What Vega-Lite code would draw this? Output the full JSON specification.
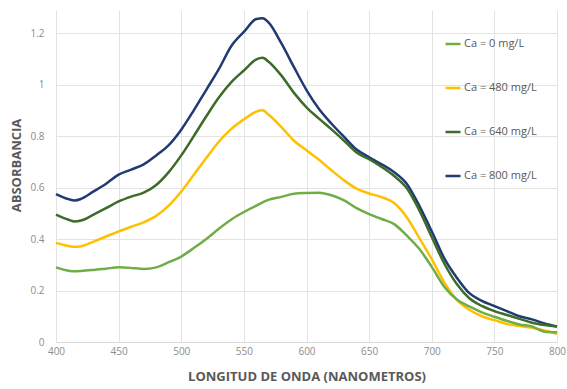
{
  "$schema": "https://vega.github.io/schema/vega-lite/v6.json",
  "autosize": {"type": "none"},
  "width": 501,
  "height": 332,
  "padding": {"left": 56, "top": 10, "right": 10, "bottom": 47},
  "background": "white",
  "config": {
    "view": {"stroke": null},
    "font": "Open Sans"
  },
  "data": {
    "values": [
      {"nm": 400, "s": "Ca = 800 mg/L", "a": 0.575}, {"nm": 410, "s": "Ca = 800 mg/L", "a": 0.555}, {"nm": 415, "s": "Ca = 800 mg/L", "a": 0.550}, {"nm": 420, "s": "Ca = 800 mg/L", "a": 0.556}, {"nm": 430, "s": "Ca = 800 mg/L", "a": 0.585}, {"nm": 440, "s": "Ca = 800 mg/L", "a": 0.615}, {"nm": 450, "s": "Ca = 800 mg/L", "a": 0.650}, {"nm": 460, "s": "Ca = 800 mg/L", "a": 0.670}, {"nm": 470, "s": "Ca = 800 mg/L", "a": 0.690}, {"nm": 480, "s": "Ca = 800 mg/L", "a": 0.725}, {"nm": 490, "s": "Ca = 800 mg/L", "a": 0.765}, {"nm": 500, "s": "Ca = 800 mg/L", "a": 0.825}, {"nm": 510, "s": "Ca = 800 mg/L", "a": 0.900}, {"nm": 520, "s": "Ca = 800 mg/L", "a": 0.980}, {"nm": 530, "s": "Ca = 800 mg/L", "a": 1.060}, {"nm": 540, "s": "Ca = 800 mg/L", "a": 1.150}, {"nm": 550, "s": "Ca = 800 mg/L", "a": 1.205}, {"nm": 560, "s": "Ca = 800 mg/L", "a": 1.255}, {"nm": 565, "s": "Ca = 800 mg/L", "a": 1.258}, {"nm": 570, "s": "Ca = 800 mg/L", "a": 1.240}, {"nm": 580, "s": "Ca = 800 mg/L", "a": 1.160}, {"nm": 590, "s": "Ca = 800 mg/L", "a": 1.068}, {"nm": 600, "s": "Ca = 800 mg/L", "a": 0.979}, {"nm": 610, "s": "Ca = 800 mg/L", "a": 0.905}, {"nm": 620, "s": "Ca = 800 mg/L", "a": 0.848}, {"nm": 630, "s": "Ca = 800 mg/L", "a": 0.797}, {"nm": 640, "s": "Ca = 800 mg/L", "a": 0.748}, {"nm": 650, "s": "Ca = 800 mg/L", "a": 0.718}, {"nm": 660, "s": "Ca = 800 mg/L", "a": 0.690}, {"nm": 670, "s": "Ca = 800 mg/L", "a": 0.660}, {"nm": 680, "s": "Ca = 800 mg/L", "a": 0.615}, {"nm": 690, "s": "Ca = 800 mg/L", "a": 0.530}, {"nm": 700, "s": "Ca = 800 mg/L", "a": 0.430}, {"nm": 710, "s": "Ca = 800 mg/L", "a": 0.325}, {"nm": 720, "s": "Ca = 800 mg/L", "a": 0.250}, {"nm": 730, "s": "Ca = 800 mg/L", "a": 0.190}, {"nm": 740, "s": "Ca = 800 mg/L", "a": 0.160}, {"nm": 750, "s": "Ca = 800 mg/L", "a": 0.140}, {"nm": 760, "s": "Ca = 800 mg/L", "a": 0.120}, {"nm": 770, "s": "Ca = 800 mg/L", "a": 0.100}, {"nm": 780, "s": "Ca = 800 mg/L", "a": 0.088}, {"nm": 790, "s": "Ca = 800 mg/L", "a": 0.072}, {"nm": 800, "s": "Ca = 800 mg/L", "a": 0.060},

      {"nm": 400, "s": "Ca = 640 mg/L", "a": 0.495}, {"nm": 410, "s": "Ca = 640 mg/L", "a": 0.475}, {"nm": 415, "s": "Ca = 640 mg/L", "a": 0.468}, {"nm": 420, "s": "Ca = 640 mg/L", "a": 0.472}, {"nm": 430, "s": "Ca = 640 mg/L", "a": 0.495}, {"nm": 440, "s": "Ca = 640 mg/L", "a": 0.520}, {"nm": 450, "s": "Ca = 640 mg/L", "a": 0.546}, {"nm": 460, "s": "Ca = 640 mg/L", "a": 0.565}, {"nm": 470, "s": "Ca = 640 mg/L", "a": 0.580}, {"nm": 480, "s": "Ca = 640 mg/L", "a": 0.610}, {"nm": 490, "s": "Ca = 640 mg/L", "a": 0.660}, {"nm": 500, "s": "Ca = 640 mg/L", "a": 0.725}, {"nm": 510, "s": "Ca = 640 mg/L", "a": 0.800}, {"nm": 520, "s": "Ca = 640 mg/L", "a": 0.877}, {"nm": 530, "s": "Ca = 640 mg/L", "a": 0.950}, {"nm": 540, "s": "Ca = 640 mg/L", "a": 1.010}, {"nm": 550, "s": "Ca = 640 mg/L", "a": 1.055}, {"nm": 560, "s": "Ca = 640 mg/L", "a": 1.098}, {"nm": 565, "s": "Ca = 640 mg/L", "a": 1.104}, {"nm": 570, "s": "Ca = 640 mg/L", "a": 1.088}, {"nm": 580, "s": "Ca = 640 mg/L", "a": 1.035}, {"nm": 590, "s": "Ca = 640 mg/L", "a": 0.968}, {"nm": 600, "s": "Ca = 640 mg/L", "a": 0.912}, {"nm": 610, "s": "Ca = 640 mg/L", "a": 0.868}, {"nm": 620, "s": "Ca = 640 mg/L", "a": 0.826}, {"nm": 630, "s": "Ca = 640 mg/L", "a": 0.782}, {"nm": 640, "s": "Ca = 640 mg/L", "a": 0.736}, {"nm": 650, "s": "Ca = 640 mg/L", "a": 0.710}, {"nm": 660, "s": "Ca = 640 mg/L", "a": 0.680}, {"nm": 670, "s": "Ca = 640 mg/L", "a": 0.645}, {"nm": 680, "s": "Ca = 640 mg/L", "a": 0.598}, {"nm": 690, "s": "Ca = 640 mg/L", "a": 0.512}, {"nm": 700, "s": "Ca = 640 mg/L", "a": 0.408}, {"nm": 710, "s": "Ca = 640 mg/L", "a": 0.305}, {"nm": 720, "s": "Ca = 640 mg/L", "a": 0.225}, {"nm": 730, "s": "Ca = 640 mg/L", "a": 0.170}, {"nm": 740, "s": "Ca = 640 mg/L", "a": 0.140}, {"nm": 750, "s": "Ca = 640 mg/L", "a": 0.120}, {"nm": 760, "s": "Ca = 640 mg/L", "a": 0.105}, {"nm": 770, "s": "Ca = 640 mg/L", "a": 0.090}, {"nm": 780, "s": "Ca = 640 mg/L", "a": 0.075}, {"nm": 790, "s": "Ca = 640 mg/L", "a": 0.066}, {"nm": 800, "s": "Ca = 640 mg/L", "a": 0.060},

      {"nm": 400, "s": "Ca = 480 mg/L", "a": 0.385}, {"nm": 410, "s": "Ca = 480 mg/L", "a": 0.373}, {"nm": 415, "s": "Ca = 480 mg/L", "a": 0.370}, {"nm": 420, "s": "Ca = 480 mg/L", "a": 0.372}, {"nm": 430, "s": "Ca = 480 mg/L", "a": 0.390}, {"nm": 440, "s": "Ca = 480 mg/L", "a": 0.410}, {"nm": 450, "s": "Ca = 480 mg/L", "a": 0.430}, {"nm": 460, "s": "Ca = 480 mg/L", "a": 0.448}, {"nm": 470, "s": "Ca = 480 mg/L", "a": 0.465}, {"nm": 480, "s": "Ca = 480 mg/L", "a": 0.490}, {"nm": 490, "s": "Ca = 480 mg/L", "a": 0.530}, {"nm": 500, "s": "Ca = 480 mg/L", "a": 0.585}, {"nm": 510, "s": "Ca = 480 mg/L", "a": 0.650}, {"nm": 520, "s": "Ca = 480 mg/L", "a": 0.715}, {"nm": 530, "s": "Ca = 480 mg/L", "a": 0.778}, {"nm": 540, "s": "Ca = 480 mg/L", "a": 0.828}, {"nm": 550, "s": "Ca = 480 mg/L", "a": 0.865}, {"nm": 560, "s": "Ca = 480 mg/L", "a": 0.895}, {"nm": 565, "s": "Ca = 480 mg/L", "a": 0.900}, {"nm": 570, "s": "Ca = 480 mg/L", "a": 0.882}, {"nm": 580, "s": "Ca = 480 mg/L", "a": 0.835}, {"nm": 590, "s": "Ca = 480 mg/L", "a": 0.782}, {"nm": 600, "s": "Ca = 480 mg/L", "a": 0.745}, {"nm": 610, "s": "Ca = 480 mg/L", "a": 0.708}, {"nm": 620, "s": "Ca = 480 mg/L", "a": 0.667}, {"nm": 630, "s": "Ca = 480 mg/L", "a": 0.628}, {"nm": 640, "s": "Ca = 480 mg/L", "a": 0.596}, {"nm": 650, "s": "Ca = 480 mg/L", "a": 0.577}, {"nm": 660, "s": "Ca = 480 mg/L", "a": 0.563}, {"nm": 670, "s": "Ca = 480 mg/L", "a": 0.540}, {"nm": 680, "s": "Ca = 480 mg/L", "a": 0.485}, {"nm": 690, "s": "Ca = 480 mg/L", "a": 0.405}, {"nm": 700, "s": "Ca = 480 mg/L", "a": 0.322}, {"nm": 710, "s": "Ca = 480 mg/L", "a": 0.232}, {"nm": 720, "s": "Ca = 480 mg/L", "a": 0.165}, {"nm": 730, "s": "Ca = 480 mg/L", "a": 0.125}, {"nm": 740, "s": "Ca = 480 mg/L", "a": 0.100}, {"nm": 750, "s": "Ca = 480 mg/L", "a": 0.085}, {"nm": 760, "s": "Ca = 480 mg/L", "a": 0.070}, {"nm": 770, "s": "Ca = 480 mg/L", "a": 0.062}, {"nm": 780, "s": "Ca = 480 mg/L", "a": 0.055}, {"nm": 790, "s": "Ca = 480 mg/L", "a": 0.045}, {"nm": 800, "s": "Ca = 480 mg/L", "a": 0.032},

      {"nm": 400, "s": "Ca = 0 mg/L", "a": 0.290}, {"nm": 410, "s": "Ca = 0 mg/L", "a": 0.277}, {"nm": 415, "s": "Ca = 0 mg/L", "a": 0.275}, {"nm": 420, "s": "Ca = 0 mg/L", "a": 0.276}, {"nm": 430, "s": "Ca = 0 mg/L", "a": 0.280}, {"nm": 440, "s": "Ca = 0 mg/L", "a": 0.285}, {"nm": 450, "s": "Ca = 0 mg/L", "a": 0.290}, {"nm": 460, "s": "Ca = 0 mg/L", "a": 0.288}, {"nm": 470, "s": "Ca = 0 mg/L", "a": 0.284}, {"nm": 480, "s": "Ca = 0 mg/L", "a": 0.290}, {"nm": 490, "s": "Ca = 0 mg/L", "a": 0.310}, {"nm": 500, "s": "Ca = 0 mg/L", "a": 0.332}, {"nm": 510, "s": "Ca = 0 mg/L", "a": 0.365}, {"nm": 520, "s": "Ca = 0 mg/L", "a": 0.400}, {"nm": 530, "s": "Ca = 0 mg/L", "a": 0.440}, {"nm": 540, "s": "Ca = 0 mg/L", "a": 0.476}, {"nm": 550, "s": "Ca = 0 mg/L", "a": 0.505}, {"nm": 560, "s": "Ca = 0 mg/L", "a": 0.530}, {"nm": 570, "s": "Ca = 0 mg/L", "a": 0.553}, {"nm": 580, "s": "Ca = 0 mg/L", "a": 0.564}, {"nm": 590, "s": "Ca = 0 mg/L", "a": 0.576}, {"nm": 600, "s": "Ca = 0 mg/L", "a": 0.579}, {"nm": 610, "s": "Ca = 0 mg/L", "a": 0.580}, {"nm": 620, "s": "Ca = 0 mg/L", "a": 0.570}, {"nm": 630, "s": "Ca = 0 mg/L", "a": 0.550}, {"nm": 640, "s": "Ca = 0 mg/L", "a": 0.520}, {"nm": 650, "s": "Ca = 0 mg/L", "a": 0.497}, {"nm": 660, "s": "Ca = 0 mg/L", "a": 0.478}, {"nm": 670, "s": "Ca = 0 mg/L", "a": 0.458}, {"nm": 680, "s": "Ca = 0 mg/L", "a": 0.414}, {"nm": 690, "s": "Ca = 0 mg/L", "a": 0.362}, {"nm": 700, "s": "Ca = 0 mg/L", "a": 0.292}, {"nm": 710, "s": "Ca = 0 mg/L", "a": 0.215}, {"nm": 720, "s": "Ca = 0 mg/L", "a": 0.165}, {"nm": 730, "s": "Ca = 0 mg/L", "a": 0.138}, {"nm": 740, "s": "Ca = 0 mg/L", "a": 0.115}, {"nm": 750, "s": "Ca = 0 mg/L", "a": 0.098}, {"nm": 760, "s": "Ca = 0 mg/L", "a": 0.082}, {"nm": 770, "s": "Ca = 0 mg/L", "a": 0.068}, {"nm": 780, "s": "Ca = 0 mg/L", "a": 0.060}, {"nm": 790, "s": "Ca = 0 mg/L", "a": 0.040}, {"nm": 800, "s": "Ca = 0 mg/L", "a": 0.038}
    ]
  },
  "mark": {"type": "line", "strokeWidth": 2.5, "interpolate": "monotone"},
  "encoding": {
    "x": {
      "field": "nm", "type": "quantitative",
      "scale": {"domain": [400, 800], "nice": false},
      "axis": {
        "values": [400, 450, 500, 550, 600, 650, 700, 750, 800],
        "title": "LONGITUD DE ONDA (NANOMETROS)",
        "titleFont": "Open Sans", "titleFontSize": 13, "titleFontWeight": "bold", "titleColor": "#595959",
        "titlePadding": 14,
        "labelFont": "Open Sans", "labelFontSize": 10, "labelColor": "#8c8c8c", "labelPadding": 4,
        "ticks": false, "domainColor": "#d9d9d9", "domainWidth": 1,
        "grid": true, "gridColor": "#e3e3e3", "gridWidth": 1,
        "labelFlush": false
      }
    },
    "y": {
      "field": "a", "type": "quantitative",
      "scale": {"domain": [0, 1.29], "nice": false},
      "axis": {
        "values": [0, 0.2, 0.4, 0.6, 0.8, 1, 1.2],
        "format": "~g",
        "title": "ABSORBANCIA",
        "titleFont": "Open Sans", "titleFontSize": 13, "titleFontWeight": "bold", "titleColor": "#595959",
        "titleX": -33, "titleY": 155,
        "labelFont": "Open Sans", "labelFontSize": 10, "labelColor": "#8c8c8c", "labelPadding": 12,
        "ticks": false, "domain": false,
        "grid": true, "gridColor": "#e3e3e3", "gridWidth": 1
      }
    },
    "color": {
      "field": "s", "type": "nominal",
      "scale": {
        "domain": ["Ca = 0 mg/L", "Ca = 480 mg/L", "Ca = 640 mg/L", "Ca = 800 mg/L"],
        "range": ["#70AD47", "#FFC000", "#3D6B28", "#203A72"]
      },
      "legend": {
        "title": null,
        "orient": "none",
        "legendX": 388,
        "legendY": 25,
        "symbolType": "stroke",
        "symbolSize": 225,
        "symbolStrokeWidth": 2.5,
        "labelFont": "Open Sans", "labelFontSize": 11, "labelColor": "#595959",
        "labelOffset": 2,
        "rowPadding": 30
      }
    }
  }
}
